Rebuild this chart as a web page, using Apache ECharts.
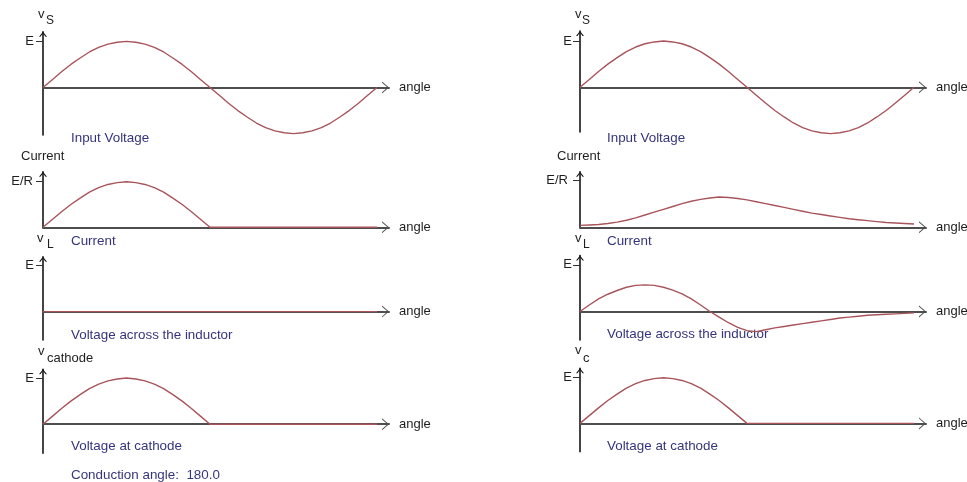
<!DOCTYPE html>
<html>
<head>
<meta charset="utf-8">
<script src="https://cdn.jsdelivr.net/npm/echarts@6/dist/echarts.min.js"></script>
<style>
html, body { margin: 0; padding: 0; background: #fff; }
#chart { width: 967px; height: 482px; }
</style>
</head>
<body>
<div id="chart"></div>
<script>
// Angle samples (degrees) shared by every waveform
const angles = [0,10,20,30,40,50,60,70,80,90,100,110,120,130,140,150,160,170,180,
                190,200,210,220,230,240,250,260,270,280,290,300,310,320,330,340,350,360];

// Supply voltage (units of E)
const inputVoltage = [0,0.17,0.34,0.50,0.64,0.77,0.87,0.94,0.98,1.00,0.98,0.94,0.87,0.77,0.64,0.50,0.34,0.17,0,
                      -0.17,-0.34,-0.50,-0.64,-0.77,-0.87,-0.94,-0.98,-1.00,-0.98,-0.94,-0.87,-0.77,-0.64,-0.50,-0.34,-0.17,0];

// Resistive load: current (E/R), inductor voltage (E), cathode voltage (E)
const resistiveCurrent = [0,0.17,0.34,0.50,0.64,0.77,0.87,0.94,0.98,1.00,0.98,0.94,0.87,0.77,0.64,0.50,0.34,0.17,0,
                          0,0,0,0,0,0,0,0,0,0,0,0,0,0,0,0,0,0,0];
const resistiveInductorVoltage = [0,0,0,0,0,0,0,0,0,0,0,0,0,0,0,0,0,0,0,
                                  0,0,0,0,0,0,0,0,0,0,0,0,0,0,0,0,0,0,0];
const resistiveCathodeVoltage = [0,0.17,0.34,0.50,0.64,0.77,0.87,0.94,0.98,1.00,0.98,0.94,0.87,0.77,0.64,0.50,0.34,0.17,0,
                                 0,0,0,0,0,0,0,0,0,0,0,0,0,0,0,0,0,0,0];

// Inductive load: current (E/R), inductor voltage (E), cathode voltage (E)
const inductiveCurrent = [0.04,0.05,0.06,0.08,0.11,0.15,0.20,0.26,0.32,0.38,0.44,0.50,0.55,0.59,0.62,0.64,0.63,0.61,0.58,
                          0.54,0.50,0.46,0.42,0.38,0.34,0.30,0.27,0.24,0.21,0.18,0.16,0.14,0.12,0.10,0.09,0.08,0.07];
const inductiveInductorVoltage = [0,0.14,0.27,0.37,0.45,0.52,0.56,0.57,0.56,0.52,0.46,0.38,0.27,0.14,0,-0.12,-0.24,-0.34,-0.41,
                                  -0.43,-0.39,-0.35,-0.32,-0.29,-0.26,-0.23,-0.20,-0.17,-0.14,-0.12,-0.10,-0.08,-0.07,-0.06,-0.05,-0.04,-0.03];
const inductiveCathodeVoltage = [0,0.17,0.34,0.50,0.64,0.77,0.87,0.94,0.98,1.00,0.98,0.94,0.87,0.77,0.64,0.50,0.34,0.17,0,
                                 0,0,0,0,0,0,0,0,0,0,0,0,0,0,0,0,0,0,0];

const tickLabels = ['E', 'E/R', 'E', 'E'];
const conductionAngle = 180.0;

const FONT = 'Liberation Sans, Arial, sans-serif';
const LABEL_SIZE = 13;
const CAPTION_SIZE = 13.4;
const CURVE = '#a8545a';
const AXIS_H = '#4e4e4e';
const AXIS_V = '#161616';
const CAPTION = '#35357d';
const TEXT = '#1e1e1e';
const ARROW_H = 'path://M0,7 L6,0 L12,7 L10.8,7 L6,1.4 L1.2,7 Z';
const ARROW_V = 'path://M0,5 L4,0 L8,5 L6.6,5 L4,1.75 L1.4,5 Z';

const AXIS_LENGTH = 346;           // pixel length of each horizontal axis
const ANGLE_MAX = 360 * 346 / 334; // axis runs slightly past one full cycle

// Layout of the eight small plots (left column: resistive, right column: inductive)
const plots = [
  { left: 43,  top: 31.7,  bottom: 135,   min: -1.03, max: 1.21,  tick: 0, margin: 9,  values: inputVoltage },
  { left: 43,  top: 171.7, bottom: 227.3, min: 0,     max: 1.22,  tick: 1, margin: 10, values: resistiveCurrent },
  { left: 43,  top: 256.7, bottom: 340,   min: -0.61, max: 1.18,  tick: 2, margin: 9,  values: resistiveInductorVoltage },
  { left: 43,  top: 369.3, bottom: 453.3, min: -0.63, max: 1.19,  tick: 3, margin: 9,  values: resistiveCathodeVoltage },
  { left: 580, top: 31,    bottom: 132,   min: -0.965,max: 1.216, tick: 0, margin: 8,  values: inputVoltage },
  { left: 580, top: 171.7, bottom: 227.3, min: 0,     max: 1.175, tick: 1, margin: 12, values: inductiveCurrent },
  { left: 580, top: 255.5, bottom: 340,   min: -0.61, max: 1.2,   tick: 2, margin: 8,  values: inductiveInductorVoltage },
  { left: 580, top: 368.3, bottom: 451.7, min: -0.62, max: 1.206, tick: 3, margin: 8,  values: inductiveCathodeVoltage }
];

const grid = [], xAxis = [], yAxis = [], series = [];
plots.forEach((p, i) => {
  grid.push({ left: p.left, top: p.top, width: AXIS_LENGTH, height: p.bottom - p.top,
              outerBoundsMode: 'none', containLabel: false });
  xAxis.push({
    type: 'value', gridIndex: i, min: 0, max: ANGLE_MAX,
    name: 'angle', nameLocation: 'end', nameGap: 10,
    nameTextStyle: { fontFamily: FONT, fontSize: LABEL_SIZE, color: TEXT, align: 'left',
                     verticalAlign: 'middle', padding: [0, 0, 10, 0] },
    axisLine: { onZero: true, symbol: ['none', ARROW_H], symbolSize: [12, 7], symbolOffset: [0, -3.5],
                lineStyle: { color: AXIS_H, width: 2 } },
    axisTick: { show: false }, axisLabel: { show: false }, splitLine: { show: false }
  });
  yAxis.push({
    type: 'value', gridIndex: i, min: p.min, max: p.max,
    axisLine: { onZero: false, symbol: ['none', ARROW_V], symbolSize: [8, 5], symbolOffset: [0, -2.5],
                lineStyle: { color: AXIS_V, width: 1.6 } },
    axisTick: { show: true, length: 7, customValues: [1], lineStyle: { color: '#333', width: 1 } },
    axisLabel: { show: true, customValues: [1], margin: p.margin, fontFamily: FONT, fontSize: LABEL_SIZE,
                 color: TEXT, formatter: () => tickLabels[p.tick] },
    splitLine: { show: false }
  });
  series.push({
    type: 'line', xAxisIndex: i, yAxisIndex: i, showSymbol: false, clip: false, silent: true,
    lineStyle: { color: CURVE, width: 1.4 },
    data: angles.map((a, k) => [a, p.values[k]])
  });
});

function label(text, x, y, opts) {
  return {
    type: 'text', x: x, y: y, silent: true,
    style: Object.assign({ text: text, fontFamily: FONT, fontSize: LABEL_SIZE, fill: TEXT,
                           align: 'left', verticalAlign: 'middle' }, opts || {})
  };
}
const caption = (text, x, y) => label(text, x, y, { fill: CAPTION, fontSize: CAPTION_SIZE });
const sub = (text, x, y) => label(text, x, y, { fontSize: 12 });

const graphic = [
  // left column
  label('v', 38, 14), sub('S', 46, 21),
  caption('Input Voltage', 71, 138),
  label('Current', 21, 156),
  caption('Current', 71, 241.7),
  label('v', 37, 238), sub('L', 47, 245),
  caption('Voltage across the inductor', 71, 335.5),
  label('v', 38, 351), label('cathode', 47, 358.5),
  caption('Voltage at cathode', 71, 446),
  caption('Conduction angle:  ' + conductionAngle.toFixed(1), 71, 475),
  // right column
  label('v', 575, 14), sub('S', 582, 21),
  caption('Input Voltage', 607, 138),
  label('Current', 557, 156),
  caption('Current', 607, 241),
  label('v', 575, 238), sub('L', 583, 245),
  caption('Voltage across the inductor', 607, 334),
  label('v', 575, 350), label('c', 583, 358.5),
  caption('Voltage at cathode', 607, 446)
];

const chart = echarts.init(document.getElementById('chart'), null, { renderer: 'canvas' });
chart.setOption({
  animation: false,
  backgroundColor: '#ffffff',
  grid: grid, xAxis: xAxis, yAxis: yAxis, series: series,
  graphic: graphic
});
</script>
</body>
</html>
